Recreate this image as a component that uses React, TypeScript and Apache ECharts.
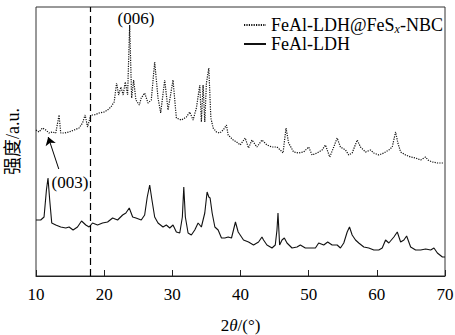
import React, { useEffect, useRef } from "react";
import * as echarts from "echarts";

// 2θ (degrees) and relative intensity for FeAl-LDH@FeSx-NBC (dotted, upper)
const compositeTheta = [
  10.0, 10.44, 10.94, 11.43, 11.91, 12.41, 12.9, 13.38, 13.63, 14.12, 14.85, 15.59, 16.32, 16.82,
  17.21, 17.56, 18.04, 18.53, 19.26, 20.0, 20.5, 20.99, 21.47, 21.82, 22.12, 22.46, 22.79, 23.09,
  23.44, 23.74, 24.03, 24.32, 24.66, 25.15, 25.44, 25.94, 26.43, 26.91, 27.41, 27.9, 28.29, 28.88,
  29.37, 30.1, 30.59, 31.32, 32.06, 32.56, 33.04, 33.53, 34.03, 34.26, 34.51, 34.76, 35.0, 35.35,
  35.65, 35.99, 36.47, 36.97, 37.46, 37.94, 38.19, 38.93, 39.41, 39.96, 40.69, 41.18, 41.68, 42.41,
  43.15, 43.88, 44.62, 45.35, 45.84, 46.24, 46.68, 47.06, 47.79, 48.53, 49.26, 50.0, 50.5, 51.24,
  51.97, 52.46, 53.09, 53.68, 54.18, 54.66, 55.4, 55.88, 56.38, 57.12, 57.6, 58.34, 59.07, 59.56,
  60.29, 61.03, 61.76, 62.26, 62.75, 63.09, 63.49, 64.22, 64.96, 65.69, 66.43, 67.16, 67.5, 68.15,
  68.88, 69.85,
];
const compositeIntensity = [
  146, 144, 148, 146, 143, 144, 143, 161, 143, 143, 144, 146, 148, 153,
  161, 149, 161, 161, 163, 164, 166, 169, 174, 193, 181, 189, 181, 194,
  181, 251, 178, 196, 176, 171, 178, 183, 173, 176, 214, 178, 163, 196,
  166, 196, 158, 156, 159, 164, 156, 168, 191, 154, 191, 154, 193, 208,
  158, 148, 144, 143, 146, 151, 141, 136, 134, 131, 138, 128, 136, 129,
  136, 131, 129, 129, 126, 123, 148, 133, 124, 123, 124, 129, 121, 123,
  126, 131, 119, 129, 138, 129, 126, 121, 123, 136, 129, 124, 126, 123,
  121, 123, 126, 129, 144, 133, 124, 121, 119, 118, 116, 119, 116, 114,
  113, 113,
];

// 2θ (degrees) and relative intensity for FeAl-LDH (solid, lower)
const ldhTheta = [
  10.0, 10.69, 11.18, 11.53, 11.76, 12.01, 12.31, 12.9, 13.63, 14.37, 14.85, 15.44, 16.09, 16.68,
  17.31, 17.79, 18.29, 19.03, 19.76, 20.5, 21.24, 21.97, 22.71, 23.19, 23.68, 24.18, 24.66, 25.44,
  25.94, 26.32, 26.68, 27.01, 27.41, 27.9, 28.63, 29.12, 29.62, 30.1, 30.59, 31.09, 31.47, 31.68,
  31.91, 32.31, 32.79, 33.29, 33.78, 34.26, 34.76, 35.1, 35.35, 35.54, 35.84, 36.24, 36.72, 37.21,
  37.71, 38.19, 38.68, 39.26, 39.66, 40.15, 40.44, 41.18, 41.91, 42.65, 43.15, 43.38, 43.88, 44.62,
  45.1, 45.35, 45.5, 45.74, 46.09, 46.43, 46.82, 47.56, 48.29, 48.78, 49.51, 50.25, 50.99, 51.47,
  52.21, 52.79, 53.44, 54.18, 54.66, 55.15, 55.65, 55.99, 56.38, 56.87, 57.35, 58.09, 58.82, 59.56,
  60.29, 60.79, 61.28, 61.76, 62.5, 63.0, 63.49, 63.97, 64.37, 64.96, 65.69, 66.43, 67.16, 67.9,
  68.38, 68.88, 69.62, 70.0,
];
const ldhIntensity = [
  56, 56, 59, 86, 98, 76, 53, 51, 49, 48, 49, 46, 49, 55,
  51, 49, 53, 51, 53, 54, 58, 56, 61, 63, 68, 59, 58, 56,
  61, 79, 91, 76, 59, 53, 49, 51, 48, 51, 44, 43, 59, 89,
  59, 43, 41, 46, 53, 49, 63, 84, 79, 78, 63, 49, 46, 38,
  38, 39, 38, 54, 44, 39, 36, 34, 31, 34, 39, 36, 31, 28,
  31, 46, 63, 31, 36, 38, 33, 28, 29, 31, 28, 28, 28, 33,
  31, 34, 31, 31, 28, 33, 44, 49, 41, 36, 33, 29, 28, 26,
  26, 28, 36, 33, 39, 44, 34, 36, 40, 29, 26, 26, 27, 26,
  28, 23, 19, 19,
];

const xTicks = [10, 20, 30, 40, 50, 60, 70];
const seriesNames = ["FeAl-LDH@FeSx-NBC", "FeAl-LDH"];
const dashedMarkerTheta = 18;

const SERIF = "Liberation Serif";
const CJK = "Liberation Serif, Noto Sans CJK SC";

export default function App() {
  const ref = useRef<HTMLDivElement>(null);

  useEffect(() => {
    if (!ref.current) return;
    const chart = echarts.init(ref.current, undefined, { renderer: "svg" });

    const compositeData = compositeTheta.map((t, i) => [t, compositeIntensity[i]]);
    const ldhData = ldhTheta.map((t, i) => [t, ldhIntensity[i]]);

    chart.setOption({
      animation: false,
      backgroundColor: "#fff",
      textStyle: { fontFamily: SERIF },
      grid: {
        left: 36,
        right: 10,
        top: 7,
        bottom: 59,
        containLabel: false,
        outerBoundsMode: "none",
        show: true,
        borderColor: "#333",
        borderWidth: 1,
        backgroundColor: "transparent",
      },
      legend: {
        orient: "vertical",
        left: 238,
        top: 11,
        itemWidth: 22,
        itemHeight: 14,
        itemGap: 0,
        data: seriesNames,
        itemStyle: { opacity: 0, color: "transparent", borderWidth: 0 },
        formatter: (name: string) =>
          name === seriesNames[0] ? "{m|FeAl-LDH@FeS}{sub|x}{m|-NBC}" : "{m|FeAl-LDH}",
        textStyle: {
          color: "#000",
          fontFamily: SERIF,
          fontSize: 18,
          rich: {
            m: { fontFamily: SERIF, fontSize: 18, lineHeight: 20, color: "#000" },
            sub: {
              fontFamily: SERIF,
              fontSize: 12,
              fontStyle: "italic",
              lineHeight: 11,
              verticalAlign: "bottom",
              color: "#000",
            },
          },
        },
      },
      xAxis: {
        type: "value",
        min: xTicks[0],
        max: xTicks[xTicks.length - 1],
        interval: 10,
        name: "{n|2}{i|θ}{n|/(°)}",
        nameLocation: "middle",
        nameGap: 41,
        nameTextStyle: {
          color: "#000",
          fontFamily: SERIF,
          fontSize: 17,
          rich: {
            n: { fontFamily: SERIF, fontSize: 17, color: "#000" },
            i: { fontFamily: SERIF, fontSize: 17, fontStyle: "italic", color: "#000" },
          },
        },
        axisLine: { show: true, lineStyle: { color: "#222", width: 1 } },
        axisTick: { show: true, inside: true, length: 6, lineStyle: { color: "#222" } },
        axisLabel: {
          show: true,
          margin: 10,
          color: "#000",
          fontFamily: SERIF,
          fontSize: 17,
          showMinLabel: true,
          showMaxLabel: true,
        },
        splitLine: { show: false },
      },
      yAxis: {
        type: "value",
        min: 0,
        max: 269,
        name: "强度/a.u.",
        nameLocation: "middle",
        nameGap: 14,
        nameRotate: 90,
        nameTextStyle: { color: "#000", fontFamily: CJK, fontSize: 18 },
        axisLine: { show: false },
        axisTick: { show: false },
        axisLabel: { show: false },
        splitLine: { show: false },
      },
      series: [
        {
          name: seriesNames[0],
          type: "line",
          data: compositeData,
          symbol: "none",
          lineStyle: { color: "#111", width: 1.2, type: [1.2, 1.2] },
          itemStyle: { color: "#111" },
          markLine: {
            silent: true,
            symbol: ["none", "arrow"],
            symbolSize: 8,
            label: { show: false },
            lineStyle: { color: "#000", width: 1, type: "solid" },
            data: [[{ coord: [13.34, 107] }, { coord: [11.79, 139] }]],
          },
        },
        {
          name: seriesNames[1],
          type: "line",
          data: ldhData,
          symbol: "none",
          lineStyle: { color: "#111", width: 1.1, type: "solid" },
          itemStyle: { color: "#111" },
          markLine: {
            silent: true,
            symbol: ["none", "none"],
            label: { show: false },
            lineStyle: { color: "#000", width: 1.2, type: [7, 4] },
            data: [{ xAxis: dashedMarkerTheta }],
          },
        },
      ],
      graphic: [
        {
          type: "text",
          x: 136,
          y: 18,
          style: {
            text: "(006)",
            fill: "#000",
            fontFamily: SERIF,
            fontSize: 17,
            align: "center",
            verticalAlign: "middle",
          },
        },
        {
          type: "text",
          x: 70,
          y: 182,
          style: {
            text: "(003)",
            fill: "#000",
            fontFamily: SERIF,
            fontSize: 17,
            align: "center",
            verticalAlign: "middle",
          },
        },
      ],
    });

    return () => chart.dispose();
  }, []);

  return (
    <div
      ref={ref}
      style={{ position: "fixed", left: 0, top: 0, width: 455, height: 335 }}
    />
  );
}
